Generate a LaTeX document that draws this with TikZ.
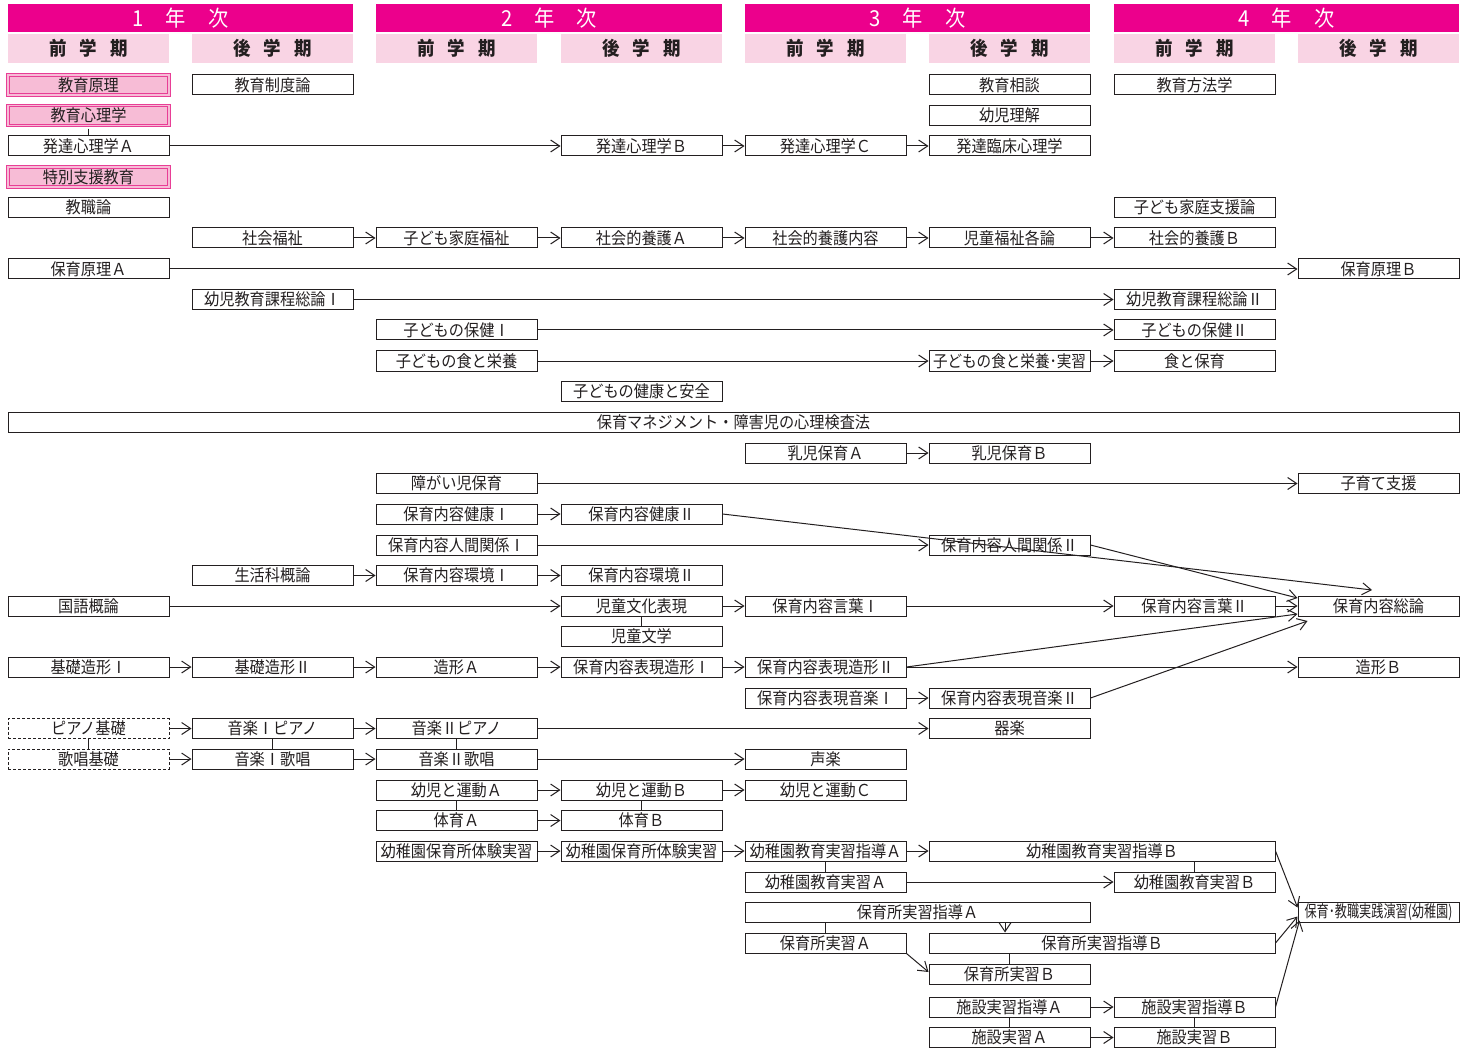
\documentclass[tikz,border=0pt]{standalone}
\usepackage{fontspec}
\setmainfont{Noto Sans CJK JP}[FakeStretch=0.92]
\usetikzlibrary{arrows.meta,calc}
\definecolor{mag}{HTML}{EC008C}
\definecolor{subpink}{HTML}{F9D4E4}
\definecolor{hlfill}{HTML}{F7BCD6}
\definecolor{hlline}{HTML}{E83E96}
\definecolor{ink}{HTML}{231F20}
\begin{document}
\begin{tikzpicture}[x=1pt,y=-1pt,
  box/.style={draw=ink, line width=1pt, fill=white, minimum width=161pt, minimum height=20pt,
    inner sep=0pt, text=ink, font=\fontsize{16.5}{16.5}\selectfont},
  hl/.style={box, draw=hlline, fill=hlfill, line width=1.1pt, double=hlfill, double distance=1.3pt},
  dbox/.style={box, dash pattern=on 3pt off 2pt},
  arr/.style={draw=ink, line width=1pt, -{Straight Barb[length=9pt,width=12pt]}},
  lnk/.style={draw=ink, line width=1pt},
  yearbar/.style={fill=mag, minimum width=345pt, minimum height=28pt, inner sep=0pt,
    text=white, font=\fontsize{22}{22}\selectfont},
  semhead/.style={fill=subpink, minimum width=161pt, minimum height=29pt, inner sep=0pt,
    text=ink, font=\fontsize{19}{19}\selectfont\bfseries}]
\useasboundingbox (0,0) rectangle (1461,1048);
\def\cA{88.5}\def\cB{272.5}\def\cC{456.5}\def\cD{641.5}
\def\cE{825.5}\def\cF{1009.5}\def\cG{1194.5}\def\cH{1378.5}
% headers
\node[yearbar] (y1) at (180.5,18) {1\hspace{22pt}年\hspace{22pt}次};
\node[yearbar, minimum width=346pt] (y2) at (549,18) {2\hspace{22pt}年\hspace{22pt}次};
\node[yearbar] (y3) at (917.5,18) {3\hspace{22pt}年\hspace{22pt}次};
\node[yearbar] (y4) at (1286.5,18) {4\hspace{22pt}年\hspace{22pt}次};
\foreach \x/\n in {\cA/1,\cC/3,\cE/5,\cG/7}{
  \node[semhead] (s\n) at (\x,48.5) {前\hspace{13pt}学\hspace{13pt}期};}
\foreach \x/\n in {\cB/2,\cD/4,\cF/6,\cH/8}{
  \node[semhead] (s\n) at (\x,48.5) {後\hspace{13pt}学\hspace{13pt}期};}
% rows
\node[hl] (a1) at (\cA,85) {教育原理};
\node[box] (b1) at (\cB,85) {教育制度論};
\node[box] (f1) at (\cF,85) {教育相談};
\node[box] (g1) at (\cG,85) {教育方法学};
\node[hl] (a2) at (\cA,115.5) {教育心理学};
\node[box] (f2) at (\cF,115.5) {幼児理解};
\node[box] (a3) at (\cA,146) {発達心理学Ａ};
\node[box] (d3) at (\cD,146) {発達心理学Ｂ};
\node[box] (e3) at (\cE,146) {発達心理学Ｃ};
\node[box] (f3) at (\cF,146) {発達臨床心理学};
\node[hl] (a4) at (\cA,177) {特別支援教育};
\node[box] (a5) at (\cA,207.5) {教職論};
\node[box] (g5) at (\cG,207.5) {子ども家庭支援論};
\node[box] (b6) at (\cB,238) {社会福祉};
\node[box] (c6) at (\cC,238) {子ども家庭福祉};
\node[box] (d6) at (\cD,238) {社会的養護Ａ};
\node[box] (e6) at (\cE,238) {社会的養護内容};
\node[box] (f6) at (\cF,238) {児童福祉各論};
\node[box] (g6) at (\cG,238) {社会的養護Ｂ};
\node[box] (a7) at (\cA,269) {保育原理Ａ};
\node[box] (h7) at (\cH,269) {保育原理Ｂ};
\node[box] (b8) at (\cB,299.5) {幼児教育課程総論Ⅰ};
\node[box] (g8) at (\cG,299.5) {幼児教育課程総論Ⅱ};
\node[box] (c9) at (\cC,330) {子どもの保健Ⅰ};
\node[box] (g9) at (\cG,330) {子どもの保健Ⅱ};
\node[box] (c10) at (\cC,361) {子どもの食と栄養};
\node[box] (f10) at (\cF,361) {\scalebox{0.96}[1]{子どもの食と栄養･実習}};
\node[box] (g10) at (\cG,361) {食と保育};
\node[box] (d11) at (\cD,391.5) {子どもの健康と安全};
\node[box, minimum width=1451pt] (w12) at (733.5,422) {保育マネジメント・障害児の心理検査法};
\node[box] (e13) at (\cE,453) {乳児保育Ａ};
\node[box] (f13) at (\cF,453) {乳児保育Ｂ};
\node[box] (c14) at (\cC,483.5) {障がい児保育};
\node[box] (h14) at (\cH,483.5) {子育て支援};
\node[box] (c15) at (\cC,514) {保育内容健康Ⅰ};
\node[box] (d15) at (\cD,514) {保育内容健康Ⅱ};
\node[box] (c16) at (\cC,545) {保育内容人間関係Ⅰ};
\node[box] (f16) at (\cF,545) {保育内容人間関係Ⅱ};
\node[box] (b17) at (\cB,575.5) {生活科概論};
\node[box] (c17) at (\cC,575.5) {保育内容環境Ⅰ};
\node[box] (d17) at (\cD,575.5) {保育内容環境Ⅱ};
\node[box] (a18) at (\cA,606) {国語概論};
\node[box] (d18) at (\cD,606) {児童文化表現};
\node[box] (e18) at (\cE,606) {保育内容言葉Ⅰ};
\node[box] (g18) at (\cG,606) {保育内容言葉Ⅱ};
\node[box] (h18) at (\cH,606) {保育内容総論};
\node[box] (d19) at (\cD,636.5) {児童文学};
\node[box] (a20) at (\cA,667) {基礎造形Ⅰ};
\node[box] (b20) at (\cB,667) {基礎造形Ⅱ};
\node[box] (c20) at (\cC,667) {造形Ａ};
\node[box] (d20) at (\cD,667) {保育内容表現造形Ⅰ};
\node[box] (e20) at (\cE,667) {保育内容表現造形Ⅱ};
\node[box] (h20) at (\cH,667) {造形Ｂ};
\node[box] (e21) at (\cE,698) {保育内容表現音楽Ⅰ};
\node[box] (f21) at (\cF,698) {保育内容表現音楽Ⅱ};
\node[dbox] (a22) at (\cA,728.5) {ピアノ基礎};
\node[box] (b22) at (\cB,728.5) {音楽Ⅰピアノ};
\node[box] (c22) at (\cC,728.5) {音楽Ⅱピアノ};
\node[box] (f22) at (\cF,728.5) {器楽};
\node[dbox] (a23) at (\cA,759) {歌唱基礎};
\node[box] (b23) at (\cB,759) {音楽Ⅰ歌唱};
\node[box] (c23) at (\cC,759) {音楽Ⅱ歌唱};
\node[box] (e23) at (\cE,759) {声楽};
\node[box] (c24) at (\cC,790) {幼児と運動Ａ};
\node[box] (d24) at (\cD,790) {幼児と運動Ｂ};
\node[box] (e24) at (\cE,790) {幼児と運動Ｃ};
\node[box] (c25) at (\cC,820.5) {体育Ａ};
\node[box] (d25) at (\cD,820.5) {体育Ｂ};
\node[box] (c26) at (\cC,851) {幼稚園保育所体験実習};
\node[box] (d26) at (\cD,851) {幼稚園保育所体験実習};
\node[box] (e26) at (\cE,851) {幼稚園教育実習指導Ａ};
\node[box, minimum width=346pt] (w26) at (1102,851) {幼稚園教育実習指導Ｂ};
\node[box] (e27) at (\cE,882) {幼稚園教育実習Ａ};
\node[box] (g27) at (\cG,882) {幼稚園教育実習Ｂ};
\node[box, minimum width=345pt] (w28) at (917.5,912.5) {保育所実習指導Ａ};
\node[box] (h28) at (\cH,912.5) {\scalebox{0.8}[1]{保育･教職実践演習(幼稚園)}};
\node[box] (e29) at (\cE,943) {保育所実習Ａ};
\node[box, minimum width=346pt] (w29) at (1102,943) {保育所実習指導Ｂ};
\node[box] (f30) at (\cF,974) {保育所実習Ｂ};
\node[box] (f31) at (\cF,1007) {施設実習指導Ａ};
\node[box] (g31) at (\cG,1007) {施設実習指導Ｂ};
\node[box] (f32) at (\cF,1037.5) {施設実習Ａ};
\node[box] (g32) at (\cG,1037.5) {施設実習Ｂ};
% horizontal arrows
\foreach \s/\t in {a3/d3,d3/e3,e3/f3,b6/c6,c6/d6,d6/e6,e6/f6,f6/g6,a7/h7,b8/g8,c9/g9,
  c10/f10,f10/g10,e13/f13,c14/h14,c15/d15,c16/f16,b17/c17,c17/d17,a18/d18,d18/e18,e18/g18,g18/h18,
  a20/b20,b20/c20,c20/d20,d20/e20,e20/h20,e21/f21,a22/b22,b22/c22,c22/f22,a23/b23,b23/c23,c23/e23,
  c24/d24,d24/e24,c25/d25,c26/d26,d26/e26,e26/w26,e27/g27,f31/g31,f32/g32}{
  \draw[arr] (\s.east) -- (\t.west);}
% diagonal arrows into 保育内容総論
\coordinate (t1) at (1372,590);
\draw[arr] (d15.east) -- (t1);
\draw[arr] (f16.east) -- ($(h18.west)+(0,-8)$);
\draw[arr] (e20.east) -- ($(h18.west)+(0,8)$);
\draw[arr] (f21.east) -- ($(h18.west)+(10,15)$);
% arrows into 保育・教職実践演習
\draw[arr] (w26.east) -- ($(h28.west)+(0,-5)$);
\draw[arr] (w29.east) -- ($(h28.west)+(0,4)$);
\draw[arr] (g31.east) -- ($(h28.west)+(2,8)$);
\draw[arr] (e29.south east) -- ($(f30.west)+(0,-2)$);
\coordinate (v1) at ($(w28.south)+(87.5,0)$);
\draw[arr] (v1) -- (v1 |- w29.north);
% vertical links
\draw[lnk] ($(a2.south)+(0,2.5)$) -- (a3.north);
\foreach \s/\t in {d18/d19,a22/a23,b22/b23,c22/c23,c24/c25,d24/d25,e26/e27,f31/f32,g31/g32}{
  \draw[lnk] (\s.south) -- (\t.north);}
\draw[lnk] (g27.north) -- (g27.north |- w26.south);
\draw[lnk] (e29.north) -- (e29.north |- w28.south);
\draw[lnk] (f30.north) -- (f30.north |- w29.south);
\end{tikzpicture}
\end{document}
